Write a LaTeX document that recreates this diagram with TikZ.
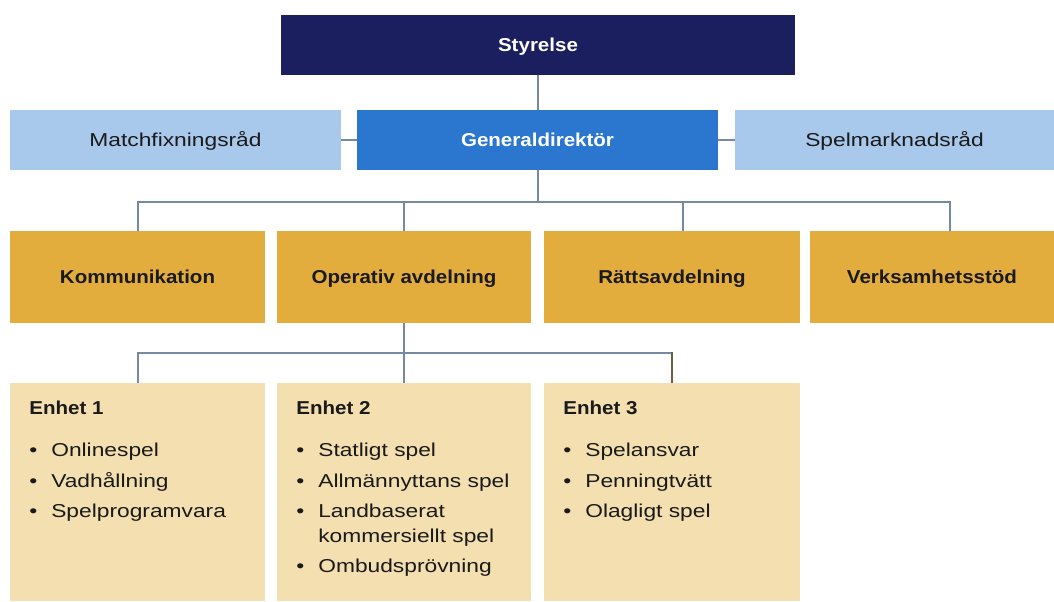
\documentclass[tikz,border=0pt]{standalone}
\usepackage{fontspec}
\setmainfont{Liberation Sans}[FakeStretch=1.22,BoldFeatures={FakeStretch=1.1}]
\definecolor{navy}{HTML}{1B1F60}
\definecolor{gdblue}{HTML}{2B77D0}
\definecolor{paleblue}{HTML}{A8C8EC}
\definecolor{gold}{HTML}{E3AD3E}
\definecolor{sand}{HTML}{F3DFB0}
\definecolor{ink}{HTML}{1A1A1A}
\definecolor{linegray}{HTML}{7489A3}
\definecolor{linebrown}{HTML}{6E5C46}
\newcommand{\lbl}{\fontsize{14}{18.75}\selectfont}
\newcommand{\bul}[1]{\makebox[16.5pt][l]{\textbullet}#1}
\tikzset{label box/.style={inner sep=0pt, text height=13pt, text depth=3pt},
  board/.style={label box, fill=navy, text=white, font=\lbl\bfseries, minimum height=45pt},
  chief/.style={label box, fill=gdblue, text=white, font=\lbl\bfseries, minimum height=45pt},
  council/.style={label box, fill=paleblue, text=ink, font=\lbl, minimum height=45pt},
  dept/.style={label box, fill=gold, text=ink, font=\lbl\bfseries, minimum height=69pt},
  unit/.style={fill=sand, minimum height=163.5pt, inner sep=0pt},
  unittext/.style={text=ink, font=\lbl, align=left, anchor=north west, inner sep=0pt},
  conn/.style={draw=linegray, line width=1.5pt}}

\begin{document}
\begin{tikzpicture}[x=0.75pt,y=-0.75pt]
  \useasboundingbox (0,0) rectangle (1054,601);
  % top rows
  \node[board, minimum width=385.5pt] (sty) at (538,45) {Styrelse};
  \node[council, minimum width=248.25pt] (mfr) at (175.5,140) {Matchfixningsråd};
  \node[chief, minimum width=270.75pt] (gd) at (537.5,140) {Generaldirektör};
  \node[council, minimum width=239.25pt] (smr) at (894.5,140) {Spelmarknadsråd};
  % departments
  \node[dept, minimum width=191.25pt] (kom) at (137.5,277) {Kommunikation};
  \node[dept, minimum width=190.5pt] (op) at (404,277) {Operativ avdelning};
  \node[dept, minimum width=192pt] (rat) at (672,277) {Rättsavdelning};
  \node[dept, minimum width=183pt] (ver) at (932,277) {Verksamhetsstöd};
  % units
  \node[unit, minimum width=191.25pt] (e1) at (137.5,492) {};
  \node[unit, minimum width=190.5pt] (e2) at (404,492) {};
  \node[unit, minimum width=192pt] (e3) at (672,492) {};
  \node[unittext] (t1) at ([xshift=14.5pt,yshift=-13.5pt]e1.north west)
    {\textbf{Enhet 1}\\[13pt]\bul{Onlinespel}\\[4pt]\bul{Vadhållning}\\[4pt]\bul{Spelprogramvara}};
  \node[unittext] (t2) at ([xshift=14.5pt,yshift=-13.5pt]e2.north west)
    {\textbf{Enhet 2}\\[13pt]\bul{Statligt spel}\\[4pt]\bul{Allmännyttans spel}\\[4pt]\bul{Landbaserat}\\
     \hspace*{16.5pt}kommersiellt spel\\[4pt]\bul{Ombudsprövning}};
  \node[unittext] (t3) at ([xshift=14.5pt,yshift=-13.5pt]e3.north west)
    {\textbf{Enhet 3}\\[13pt]\bul{Spelansvar}\\[4pt]\bul{Penningtvätt}\\[4pt]\bul{Olagligt spel}};
  % connectors
  \coordinate (bus) at (538,202);
  \coordinate (bus2) at (405,353);
  \coordinate (ratin) at ([xshift=8.25pt]rat.north);
  \coordinate (verin) at ([xshift=13.5pt]ver.north);
  \draw[conn] (sty.south) -- (sty.south |- gd.north);
  \draw[conn] (mfr) -- (gd);
  \draw[conn] (gd) -- (smr);
  \draw[conn] (gd.south) -- (gd.south |- bus);
  \draw[conn] (kom.north) |- (bus) -| (verin);
  \draw[conn] (op.north) -- (op.north |- bus);
  \draw[conn] (ratin) -- (ratin |- bus);
  \draw[conn] (op.south) -- (op.south |- bus2);
  \draw[conn] (e1.north) |- (e3.north |- bus2);
  \draw[conn] (e2.north) -- (e2.north |- bus2);
  \draw[conn, draw=linebrown] (e3.north) -- ([yshift=0.75pt]e3.north |- bus2);
\end{tikzpicture}
\end{document}
